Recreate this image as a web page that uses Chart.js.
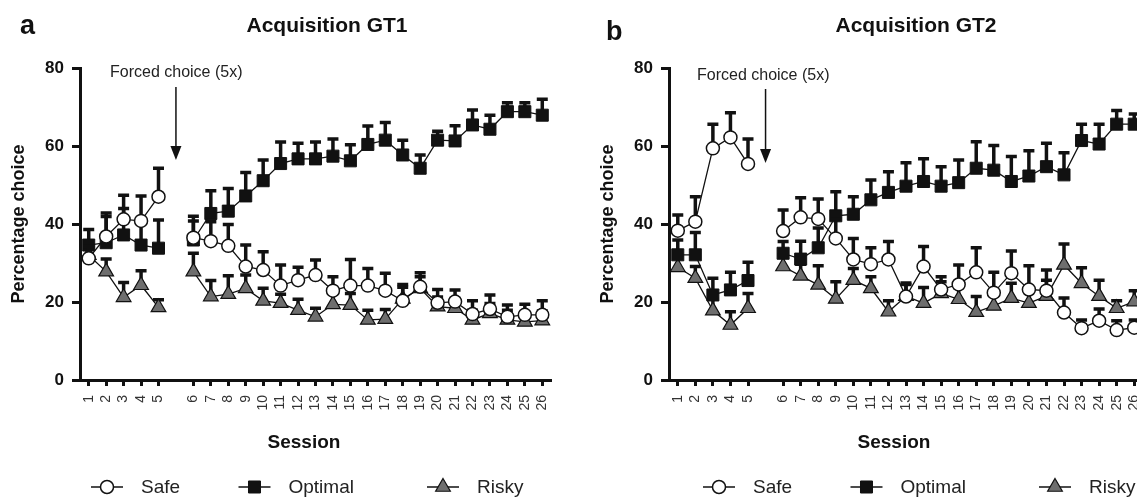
<!DOCTYPE html>
<html>
<head>
<meta charset="utf-8">
<script src="https://cdn.jsdelivr.net/npm/chart.js@4.4.1/dist/chart.umd.min.js"></script>
<style>
  html, body { margin: 0; padding: 0; background: #fff; overflow: hidden; }
  body { width: 1137px; height: 497px; position: relative; }
  canvas { position: absolute; top: 0; }
  #gt1 { left: 0; }
  #gt2 { left: 589px; }
</style>
</head>
<body>
<canvas id="gt1" width="600" height="497"></canvas>
<canvas id="gt2" width="600" height="497"></canvas>
<script>
// sessions 1-5, empty slot for the forced choice block, then 6-26
const sessionLabels = ['1', '2', '3', '4', '5', '', '6', '7', '8', '9', '10', '11', '12', '13', '14', '15', '16',
  '17', '18', '19', '20', '21', '22', '23', '24', '25', '26'];
const yTicks = [0, 20, 40, 60, 80];

// Acquisition GT1
const gt1Safe = [31.2, 36.8, 41.2, 40.8, 47.0, null, 36.5, 35.6, 34.4, 29.1, 28.2, 24.2, 25.6, 26.9, 22.9, 24.2, 24.2,
  22.9, 20.3, 23.9, 19.8, 20.1, 16.9, 18.2, 16.2, 16.7, 16.7];
const gt1SafeErr = [3, 6, 6.2, 6.4, 7.3, null, 5.5, 5, 5.5, 5.5, 4.7, 5.3, 3.3, 3.9, 3.6, 6.7, 4.4,
  4.5, 4.2, 3.6, 3.4, 3, 3.4, 3.6, 3, 2.7, 3.6];
const gt1Optimal = [34.6, 35.2, 37.2, 34.6, 33.8, null, 35.9, 42.7, 43.3, 47.2, 51.1, 55.5, 56.7, 56.7, 57.4, 56.2, 60.4,
  61.5, 57.7, 54.3, 61.5, 61.3, 65.4, 64.3, 68.8, 68.8, 67.9];
const gt1OptimalErr = [4, 6.7, 6.8, 6, 7.2, null, 4.9, 5.8, 5.8, 6, 5.3, 5.5, 4, 4.3, 4.4, 4.1, 4.7,
  4.5, 3.8, 3.4, 2.3, 3.9, 3.8, 3.6, 2.3, 2.3, 4.1];
const gt1Risky = [32, 27.8, 21.2, 24.3, 18.6, null, 27.8, 21.4, 22, 23.5, 20.3, 19.7, 17.9, 16.2, 19.4, 19.2, 15.4,
  15.6, 20.8, 23.5, 18.8, 18.4, 15.4, 17.1, 15.4, 14.9, 15.2];
const gt1RiskyErr = [2.5, 3.2, 3.8, 3.7, 2, null, 4.7, 4.1, 4.7, 3.4, 3.2, 2.3, 2.8, 2.2, 3, 3, 2.5,
  2.5, 3, 3, 2.5, 2.5, 2.5, 2.5, 2.5, 2.5, 2.5];

// Acquisition GT2
const gt2Safe = [38.3, 40.6, 59.4, 62.2, 55.4, null, 38.2, 41.7, 41.3, 36.3, 30.9, 29.7, 30.9, 21.4, 29.1, 23.2, 24.5,
  27.6, 22.4, 27.4, 23.2, 22.9, 17.3, 13.3, 15.2, 12.8, 13.4];
const gt2SafeErr = [4, 6.4, 6.2, 6.3, 6.4, null, 5.4, 5, 5.1, 5, 5.4, 4.2, 4.6, 3.5, 5.1, 3.3, 5,
  6.3, 5.2, 5.7, 6.1, 5.3, 3.7, 2.1, 3, 2.4, 2];
const gt2Optimal = [32.1, 32.1, 21.8, 23.1, 25.5, null, 32.5, 31, 33.9, 42.1, 42.5, 46.2, 48.1, 49.7, 50.9, 49.7, 50.6,
  54.3, 53.8, 50.9, 52.3, 54.7, 52.6, 61.4, 60.5, 65.6, 65.6];
const gt2OptimalErr = [3.8, 5.7, 4.3, 4.5, 4.7, null, 3, 4.6, 5.1, 6.2, 4.5, 5.1, 5.3, 6, 5.8, 5, 5.8,
  6.8, 6.3, 6.4, 6.5, 6, 5.7, 4.2, 5.1, 3.5, 2.6];
const gt2Risky = [28.9, 26.1, 17.8, 14.1, 18.4, null, 29.1, 26.7, 24.4, 20.8, 25.6, 23.5, 17.5, 21.5, 19.7, 22.2, 20.7,
  17.4, 19, 21, 19.7, 21.5, 29.5, 24.8, 21.5, 18.4, 20.1];
const gt2RiskyErr = [3, 3, 3, 3.4, 3.8, null, 3, 3, 4.9, 4.4, 3, 3, 2.8, 3, 4, 3, 3,
  4, 3, 3.8, 3, 4.1, 5.4, 4, 4.1, 1.9, 2.8];

Chart.defaults.font.family = '"Liberation Sans", Arial, Helvetica, sans-serif';
Chart.defaults.color = '#111';

const INK = '#111';

// error bars (up only), panel texts, arrow and legend
const decor = {
  id: 'decor',
  beforeDatasetDraw(chart, args) {
    const ds = chart.data.datasets[args.index];
    const y = chart.scales.y;
    const ctx = chart.ctx;
    ctx.save();
    ctx.strokeStyle = INK;
    ctx.lineWidth = 3.5;
    ctx.lineCap = 'butt';
    args.meta.data.forEach((pt, i) => {
      const v = ds.data[i], e = ds.errors[i];
      if (v == null || e == null) return;
      const top = y.getPixelForValue(v + e);
      ctx.beginPath();
      ctx.moveTo(pt.x, pt.y);
      ctx.lineTo(pt.x, top);
      ctx.moveTo(pt.x - 5.5, top);
      ctx.lineTo(pt.x + 5.5, top);
      ctx.stroke();
    });
    ctx.restore();
  },
  afterDraw(chart, args, o) {
    const ctx = chart.ctx;
    const xs = chart.scales.x;
    ctx.save();
    ctx.fillStyle = INK;
    ctx.textBaseline = 'alphabetic';

    ctx.font = 'bold 27px "Liberation Sans", Arial';
    ctx.textAlign = 'left';
    ctx.fillText(o.letter, o.letterX, o.letterY);

    ctx.font = 'bold 21px "Liberation Sans", Arial';
    ctx.textAlign = 'center';
    ctx.fillText(o.title, o.titleX, o.titleY);

    ctx.font = 'bold 19px "Liberation Sans", Arial';
    ctx.fillText('Session', o.sessionX, o.sessionY);

    ctx.font = '16px "Liberation Sans", Arial';
    ctx.textAlign = 'left';
    ctx.fillStyle = '#222';
    ctx.fillText('Forced choice (5x)', o.noteX, o.noteY);

    // arrow over the empty slot
    const gx = xs.getPixelForValue(5);
    ctx.strokeStyle = INK;
    ctx.fillStyle = INK;
    ctx.lineWidth = 1.5;
    ctx.beginPath();
    ctx.moveTo(gx, o.arrowTop);
    ctx.lineTo(gx, o.arrowTip - 12);
    ctx.stroke();
    ctx.beginPath();
    ctx.moveTo(gx - 5.5, o.arrowTip - 14);
    ctx.lineTo(gx + 5.5, o.arrowTip - 14);
    ctx.lineTo(gx, o.arrowTip);
    ctx.closePath();
    ctx.fill();

    // legend
    chart.data.datasets.forEach((ds, i) => {
      const cx = o.legendX[i];
      const ly = o.legendY;
      ctx.strokeStyle = INK;
      ctx.lineWidth = 1.5;
      ctx.beginPath();
      ctx.moveTo(cx - 16, ly);
      ctx.lineTo(cx + 16, ly);
      ctx.stroke();
      ctx.fillStyle = ds.pointBackgroundColor;
      ctx.strokeStyle = ds.pointBorderColor;
      ctx.lineWidth = ds.pointBorderWidth;
      Chart.helpers.drawPoint(ctx, {
        pointStyle: ds.pointStyle, radius: ds.pointRadius, borderWidth: ds.pointBorderWidth, rotation: 0
      }, cx, ly);
      ctx.fillStyle = '#222';
      ctx.font = '19px "Liberation Sans", Arial';
      ctx.textAlign = 'left';
      ctx.textBaseline = 'middle';
      ctx.fillText(ds.label, cx + 34, ly + 1);
      ctx.textBaseline = 'alphabetic';
    });
    ctx.restore();
  }
};

function series(label, data, errors, style) {
  const base = {
    label: label,
    data: data,
    errors: errors,
    borderColor: INK,
    borderWidth: 1.3,
    tension: 0,
    spanGaps: false,
    pointBorderColor: INK
  };
  if (style === 'safe') {
    return Object.assign(base, { pointStyle: 'circle', pointRadius: 6.5, pointBackgroundColor: '#fff', pointBorderWidth: 1.5 });
  }
  if (style === 'optimal') {
    return Object.assign(base, { pointStyle: 'rect', pointRadius: 8.5, pointBackgroundColor: INK, pointBorderWidth: 1 });
  }
  return Object.assign(base, { pointStyle: 'triangle', pointRadius: 8.5, pointBackgroundColor: '#6e6e6e', pointBorderWidth: 1.2 });
}

function makePanel(id, sets, panel, rightPad) {
  return new Chart(document.getElementById(id), {
    type: 'line',
    data: {
      labels: sessionLabels,
      datasets: sets
    },
    options: {
      responsive: false,
      animation: false,
      layout: { padding: { top: 68, left: 0, right: rightPad, bottom: 42 } },
      plugins: {
        legend: { display: false },
        tooltip: { enabled: false },
        decor: panel
      },
      scales: {
        x: {
          type: 'category',
          offset: true,
          afterFit(scale) { scale.height = 75; },
          grid: {
            offset: false,
            drawOnChartArea: false,
            tickLength: 6,
            tickWidth: 3,
            tickColor: c => (c.tick && c.tick.label === '') ? 'rgba(0,0,0,0)' : INK
          },
          border: { display: true, color: INK, width: 3 },
          ticks: {
            autoSkip: false,
            minRotation: 90,
            maxRotation: 90,
            padding: 9,
            color: '#333',
            font: { size: 14 }
          }
        },
        y: {
          min: 0,
          max: 80,
          afterFit(scale) { scale.width = 80; },
          afterBuildTicks(scale) { scale.ticks = yTicks.map(v => ({ value: v })); },
          grid: { drawOnChartArea: false, tickLength: 8, tickWidth: 3, tickColor: INK },
          border: { display: true, color: INK, width: 3 },
          ticks: { padding: 8, color: INK, font: { size: 17, weight: 'bold' } },
          title: {
            display: true,
            text: 'Percentage choice',
            color: INK,
            padding: { top: 8, bottom: 0 },
            font: { size: 18, weight: 'bold' }
          }
        }
      }
    },
    plugins: [decor]
  });
}

makePanel('gt1', [
  series('Safe', gt1Safe, gt1SafeErr, 'safe'),
  series('Optimal', gt1Optimal, gt1OptimalErr, 'optimal'),
  series('Risky', gt1Risky, gt1RiskyErr, 'risky')
], {
  letter: 'a', letterX: 20, letterY: 34,
  title: 'Acquisition GT1', titleX: 327, titleY: 32,
  sessionX: 304, sessionY: 448,
  noteX: 110, noteY: 77, arrowTop: 87, arrowTip: 160,
  legendX: [107, 254.5, 443], legendY: 487
}, 49);

makePanel('gt2', [
  series('Safe', gt2Safe, gt2SafeErr, 'safe'),
  series('Optimal', gt2Optimal, gt2OptimalErr, 'optimal'),
  series('Risky', gt2Risky, gt2RiskyErr, 'risky')
], {
  letter: 'b', letterX: 17, letterY: 40,
  title: 'Acquisition GT2', titleX: 327, titleY: 32,
  sessionX: 305, sessionY: 448,
  noteX: 108, noteY: 80, arrowTop: 89, arrowTip: 163,
  legendX: [130, 277.5, 466], legendY: 487
}, 46);
</script>
</body>
</html>
